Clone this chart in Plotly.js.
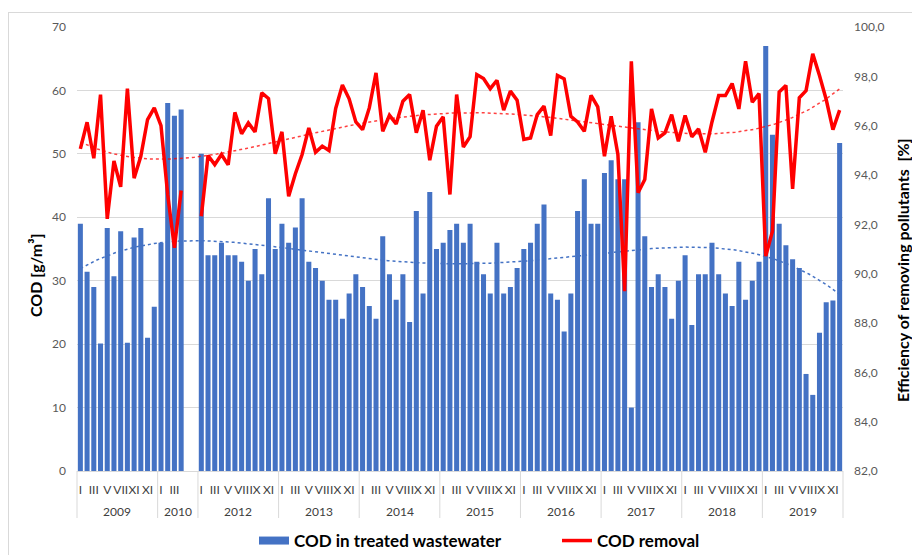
<!DOCTYPE html>
<html>
<head>
<meta charset="utf-8">
<script src="https://cdn.plot.ly/plotly-3.0.1.min.js"></script>
<style>
  html, body { margin: 0; padding: 0; background: #ffffff; }
  #wrap { position: relative; width: 912px; height: 555px; overflow: hidden; }
  #frame { position: absolute; left: 8px; top: 12px; width: 1000px; height: 700px;
           border-left: 1px solid #d9d9d9; border-top: 1px solid #d9d9d9; pointer-events: none; }
  #chart { position: absolute; left: 0; top: 0; width: 912px; height: 555px; }
</style>
</head>
<body>
<div id="wrap">
  <div id="chart"></div>
  <div id="frame"></div>
</div>
<script>
// ---------------- data ----------------
const years = ['2009', '2010', '2012', '2013', '2014', '2015', '2016', '2017', '2018', '2019'];

// month tick labels per year (Excel shows every other month; 2009 has "XI" at the IX place)
const monthTicks2009 = ['I', '', 'III', '', 'V', '', 'VII', '', 'XI', '', 'XI', ''];
const monthTicks2010 = ['I', '', 'III', '', '', ''];
const monthTicksStd  = ['I', '', 'III', '', 'V', '', 'VII', '', 'IX', '', 'XI', ''];

// COD in treated wastewater [g/m3]
const cod2009 = [39.0, 31.4, 29.0, 20.1, 38.3, 30.7, 37.8, 20.2, 36.8, 38.3, 21.0, 25.9];
const cod2010 = [36.0, 58.0, 56.0, 57.0, null, null];
const cod2012 = [50.0, 34.0, 34.0, 36.0, 34.0, 34.0, 33.0, 30.0, 35.0, 31.0, 43.0, 35.0];
const cod2013 = [39.0, 36.0, 38.4, 43.0, 33.0, 32.0, 30.0, 27.0, 27.0, 24.0, 28.0, 31.0];
const cod2014 = [29.0, 26.0, 24.0, 37.0, 31.0, 27.0, 31.0, 23.5, 41.0, 28.0, 44.0, 35.0];
const cod2015 = [36.0, 38.0, 39.0, 36.0, 39.0, 33.0, 31.0, 28.0, 36.0, 28.0, 29.0, 32.0];
const cod2016 = [35.0, 36.0, 39.0, 42.0, 28.0, 27.0, 22.0, 28.0, 41.0, 46.0, 39.0, 39.0];
const cod2017 = [47.0, 49.0, 46.0, 46.0, 10.0, 55.0, 37.0, 29.0, 31.0, 29.0, 24.0, 30.0];
const cod2018 = [34.0, 23.0, 31.0, 31.0, 36.0, 31.0, 28.0, 26.0, 33.0, 27.0, 30.0, 33.0];
const cod2019 = [67.0, 53.0, 39.0, 35.6, 33.4, 32.0, 15.3, 12.0, 21.8, 26.6, 26.9, 51.7];

// COD removal efficiency [%]
const rem2009 = [95.06, 96.14, 94.68, 97.26, 92.22, 94.57, 93.52, 97.50, 93.87, 94.76, 96.25, 96.72];
const rem2010 = [96.00, 93.20, 91.05, 93.37, null, null];
const rem2012 = [92.33, 94.79, 94.42, 94.83, 94.41, 96.54, 95.67, 96.11, 95.75, 97.33, 97.10, 94.86];
const rem2013 = [95.75, 93.14, 94.05, 94.83, 95.91, 94.92, 95.17, 94.99, 96.70, 97.65, 97.09, 96.15];
const rem2014 = [95.84, 96.72, 98.14, 95.77, 96.42, 96.07, 96.99, 97.26, 95.71, 96.63, 94.60, 95.98];
const rem2015 = [96.36, 93.21, 97.26, 95.13, 95.55, 98.07, 97.91, 97.50, 97.84, 96.63, 97.40, 97.03];
const rem2016 = [95.44, 95.50, 96.45, 96.79, 95.60, 98.04, 97.90, 96.38, 96.15, 95.77, 97.23, 96.76];
const rem2017 = [94.76, 96.38, 94.83, 89.29, 98.61, 93.28, 93.82, 96.68, 95.50, 95.71, 96.45, 95.37];
const rem2018 = [96.41, 95.55, 95.87, 94.92, 96.15, 97.22, 97.22, 97.71, 96.68, 98.61, 96.95, 97.30];
const rem2019 = [90.71, 91.72, 97.36, 97.63, 93.44, 97.13, 97.42, 98.91, 98.03, 97.06, 95.84, 96.63];

const codByYear = [cod2009, cod2010, cod2012, cod2013, cod2014, cod2015, cod2016, cod2017, cod2018, cod2019];
const remByYear = [rem2009, rem2010, rem2012, rem2013, rem2014, rem2015, rem2016, rem2017, rem2018, rem2019];
const ticksByYear = [monthTicks2009, monthTicks2010, monthTicksStd, monthTicksStd, monthTicksStd,
                     monthTicksStd, monthTicksStd, monthTicksStd, monthTicksStd, monthTicksStd];

// ---------------- build flat series ----------------
const cod = [], rem = [], xs = [], tickvals = [], ticktext = [];
const yearStart = [], yearEnd = [];
let idx = 0;
codByYear.forEach((arr, yi) => {
  yearStart.push(idx);
  arr.forEach((v, mi) => {
    cod.push(v);
    rem.push(remByYear[yi][mi]);
    xs.push(idx);
    const t = ticksByYear[yi][mi];
    if (t) { tickvals.push(idx); ticktext.push(t); }
    idx++;
  });
  yearEnd.push(idx - 1);
});
const N = idx;

// polynomial least-squares trendline, as Excel draws it
function polyTrend(xArr, yArr, order) {
  const px = [], py = [];
  const mid = (N - 1) / 2, half = (N - 1) / 2;
  xArr.forEach((x, i) => { if (yArr[i] !== null) { px.push((x - mid) / half); py.push(yArr[i]); } });
  const m = order + 1;
  const A = Array.from({length: m}, () => new Array(m + 1).fill(0));
  for (let k = 0; k < px.length; k++) {
    const pw = [1];
    for (let j = 1; j < 2 * m; j++) pw.push(pw[j - 1] * px[k]);
    for (let r = 0; r < m; r++) {
      for (let c = 0; c < m; c++) A[r][c] += pw[r + c];
      A[r][m] += pw[r] * py[k];
    }
  }
  for (let c = 0; c < m; c++) {
    let p = c;
    for (let r = c + 1; r < m; r++) if (Math.abs(A[r][c]) > Math.abs(A[p][c])) p = r;
    [A[c], A[p]] = [A[p], A[c]];
    for (let r = 0; r < m; r++) {
      if (r === c) continue;
      const f = A[r][c] / A[c][c];
      for (let k = c; k <= m; k++) A[r][k] -= f * A[c][k];
    }
  }
  const coef = A.map((row, r) => row[m] / row[r]);
  const tx = [], ty = [];
  for (let s = 0; s <= 400; s++) {
    const x = (N - 1) * s / 400;
    const u = (x - mid) / half;
    let v = 0, p = 1;
    for (let j = 0; j < m; j++) { v += coef[j] * p; p *= u; }
    tx.push(x); ty.push(v);
  }
  return {x: tx, y: ty};
}
const codTrend = polyTrend(xs, cod, 4);
const remTrend = polyTrend(xs, rem, 4);

// ---------------- traces ----------------
const FONT = 'Lato, Carlito, Calibri, "Open Sans", sans-serif';
const BLUE = '#4472C4', RED = '#FF0000';
const traces = [
  {
    type: 'bar', name: 'COD in treated wastewater', x: xs, y: cod,
    marker: {color: BLUE}, yaxis: 'y', hoverinfo: 'y', showlegend: false
  },
  {
    type: 'scatter', mode: 'lines', name: 'COD trend', x: codTrend.x, y: codTrend.y,
    line: {color: BLUE, width: 1.5, dash: 'dot'}, yaxis: 'y', showlegend: false, hoverinfo: 'skip'
  },
  {
    type: 'scatter', mode: 'lines', name: 'COD removal', x: xs, y: rem,
    line: {color: RED, width: 3.5}, yaxis: 'y2', connectgaps: false, hoverinfo: 'y', showlegend: false
  },
  {
    type: 'scatter', mode: 'lines', name: 'COD removal trend', x: remTrend.x, y: remTrend.y,
    line: {color: RED, width: 1.5, dash: 'dot'}, opacity: 0.75, yaxis: 'y2', showlegend: false, hoverinfo: 'skip'
  },
  // legend entries (Excel-style swatches)
  {
    type: 'scatter', mode: 'lines', name: 'COD in treated wastewater', x: [null], y: [null],
    line: {color: BLUE, width: 8}, yaxis: 'y', showlegend: true, hoverinfo: 'skip'
  },
  {
    type: 'scatter', mode: 'lines', name: 'COD removal', x: [null], y: [null],
    line: {color: RED, width: 3.5}, yaxis: 'y2', showlegend: true, hoverinfo: 'skip'
  }
];

// ---------------- x-axis group labels & dividers ----------------
const shapes = [], annotations = [];
const toPaper = v => (v + 0.5) / N;
const divY = -47 / 444;
const bounds = [-0.5].concat(yearEnd.map(e => e + 0.5));
bounds.forEach(b => {
  shapes.push({type: 'line', xref: 'paper', yref: 'paper', x0: toPaper(b), x1: toPaper(b),
               y0: 0, y1: divY, line: {color: '#d9d9d9', width: 1}});
});
years.forEach((yr, i) => {
  annotations.push({xref: 'paper', yref: 'paper', x: toPaper((yearStart[i] + yearEnd[i]) / 2), y: 0,
                    yshift: -40, yanchor: 'middle', xanchor: 'center', showarrow: false, text: yr,
                    font: {family: FONT, size: 12, color: '#404040'}});
});
annotations.push({xref: 'paper', yref: 'paper', x: -42 / 766, y: (471 - 275) / 444, xanchor: 'center', yanchor: 'middle',
                  showarrow: false, textangle: -90, text: 'COD [g/m³]',
                  font: {family: FONT, size: 16, color: '#000000', weight: 'bold'}});
annotations.push({xref: 'paper', yref: 'paper', x: (902 - 77) / 766, y: (471 - 270) / 444, xanchor: 'center', yanchor: 'middle',
                  showarrow: false, textangle: -90, text: 'Efficiency of removing pollutants\u00a0 [%]',
                  font: {family: FONT, size: 16, color: '#000000', weight: 'bold'}});

const layout = {
  width: 912, height: 555,
  margin: {l: 77, r: 69, t: 27, b: 84, pad: 0, autoexpand: false},
  paper_bgcolor: 'rgba(0,0,0,0)', plot_bgcolor: '#ffffff',
  font: {family: FONT, size: 12, color: '#595959'},
  separators: ', ',
  bargap: 0.25,
  showlegend: true,
  legend: {orientation: 'h', x: (254 - 77) / 766, xanchor: 'left', y: (471 - 541) / 444, yanchor: 'middle',
           font: {family: FONT, size: 17, color: '#000000', weight: 'bold'}, itemwidth: 30,
           entrywidth: 258, entrywidthmode: 'pixels',
           traceorder: 'normal', bgcolor: 'rgba(0,0,0,0)'},
  xaxis: {
    range: [-0.5, N - 0.5], tickmode: 'array', tickvals: tickvals, ticktext: ticktext,
    tickangle: 0, ticks: '', showgrid: false, zeroline: false, showline: true, linecolor: '#d9d9d9',
    tickfont: {family: FONT, size: 12, color: '#404040'}, ticklabelstandoff: 8, fixedrange: true
  },
  yaxis: {
    range: [0, 70], dtick: 10, tick0: 0, showgrid: true, gridcolor: '#d9d9d9', gridwidth: 1,
    zeroline: false, showline: false, ticks: '', ticklabelstandoff: 10,
    tickfont: {family: FONT, size: 12, color: '#595959'}, fixedrange: true
  },
  yaxis2: {
    overlaying: 'y', side: 'right', range: [82, 100], dtick: 2, tick0: 82, tickformat: '.1f',
    showgrid: false, zeroline: false, showline: false, ticks: '', ticklabelstandoff: 10,
    tickfont: {family: FONT, size: 12, color: '#595959'}, fixedrange: true
  },
  shapes: shapes,
  annotations: annotations
};

Plotly.newPlot('chart', traces, layout, {displayModeBar: false, staticPlot: true});
</script>
</body>
</html>
